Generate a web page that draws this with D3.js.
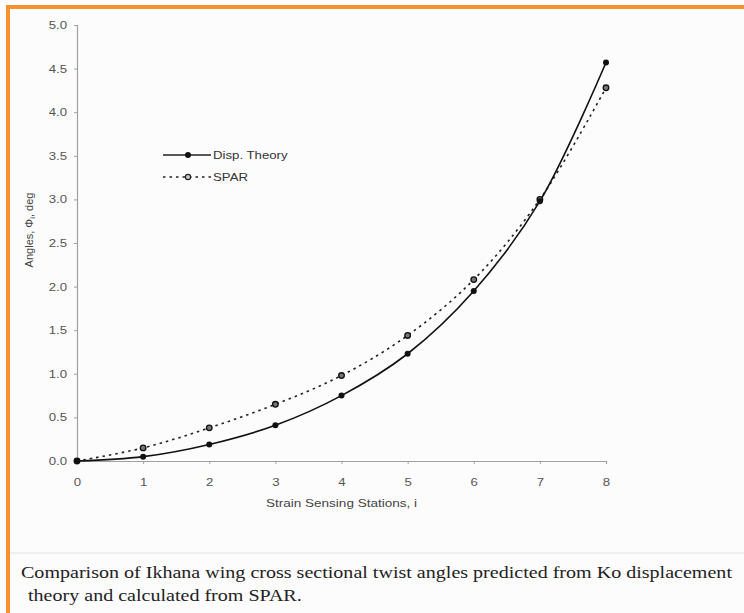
<!DOCTYPE html>
<html>
<head>
<meta charset="utf-8">
<script src="https://cdn.jsdelivr.net/npm/d3@7"></script>
<style>
  html, body { margin: 0; padding: 0; background: #fdfcfd; }
  svg { display: block; }
</style>
</head>
<body>
<div id="chart"></div>
<script>
// Values
const stations = [0, 1, 2, 3, 4, 5, 6, 7, 8];
const dispTheory = [0, 0.05, 0.19, 0.41, 0.75, 1.23, 1.95, 2.98, 4.57];
const spar = [0, 0.15, 0.38, 0.65, 0.98, 1.44, 2.08, 3.0, 4.28];
const yTicks = [0, 0.5, 1, 1.5, 2, 2.5, 3, 3.5, 4, 4.5, 5];
const xTicks = [0, 1, 2, 3, 4, 5, 6, 7, 8];
const captionLines = [
  'Comparison of Ikhana wing cross sectional twist angles predicted from Ko displacement',
  'theory and calculated from SPAR.'
];

const width = 744, height = 613;
const margin = { left: 77, right: 138, top: 25, bottom: 152 };
const SANS = 'Liberation Sans, Arial, sans-serif';
const STRETCH = 1.2; // the scan is wider than it is tall

// widen horizontal text like the scanned original
function stretch(sel, f) {
  sel.each(function () {
    const w = this.getComputedTextLength();
    d3.select(this).attr('textLength', w * f).attr('lengthAdjust', 'spacingAndGlyphs');
  });
}

const svg = d3.select('#chart').append('svg')
  .attr('width', width)
  .attr('height', height);

svg.append('rect').attr('width', width).attr('height', height).attr('fill', '#fdfcfd');

// orange frame (top and left)
svg.append('line').attr('x1', 6).attr('x2', width).attr('y1', 7).attr('y2', 7)
  .attr('stroke', '#f7932e').attr('stroke-width', 4);
svg.append('line').attr('x1', 8).attr('x2', 8).attr('y1', 5).attr('y2', height)
  .attr('stroke', '#f7932e').attr('stroke-width', 4);

const x = d3.scaleLinear().domain([0, 8]).range([margin.left, width - margin.right]);
const y = d3.scaleLinear().domain([0, 5]).range([height - margin.bottom, margin.top]);

// axes
const xAxis = svg.append('g')
  .attr('transform', `translate(0,${y(0)})`)
  .call(d3.axisBottom(x).tickValues(xTicks).tickFormat(d3.format('d')).tickSize(3).tickPadding(14));
const yAxis = svg.append('g')
  .attr('transform', `translate(${x(0)},0)`)
  .call(d3.axisLeft(y).tickValues(yTicks).tickFormat(d3.format('.1f')).tickSize(3).tickPadding(7));

[xAxis, yAxis].forEach(a => {
  a.select('.domain').attr('stroke', '#a0a0a0').attr('stroke-width', 1.2);
  a.selectAll('.tick line').attr('stroke', '#a0a0a0');
  a.selectAll('.tick text')
    .attr('fill', '#555')
    .attr('font-family', SANS)
    .attr('font-size', 11);
  stretch(a.selectAll('.tick text'), STRETCH);
});

const xTitle = svg.append('text')
  .attr('x', x(4))
  .attr('y', 507)
  .attr('text-anchor', 'middle')
  .attr('font-family', SANS)
  .attr('font-size', 11)
  .attr('fill', '#444')
  .text('Strain Sensing Stations, i');
stretch(xTitle, 1.23);

const yLabel = svg.append('text')
  .attr('transform', 'translate(33,230) rotate(-90)')
  .attr('text-anchor', 'middle')
  .attr('font-family', SANS)
  .attr('font-size', 11)
  .attr('fill', '#444');
yLabel.append('tspan').text('Angles, Φ');
yLabel.append('tspan').attr('font-size', 8).attr('dy', 2).text('i');
yLabel.append('tspan').attr('dy', -2).text(', deg');

// curves
const line = d3.line()
  .x((d, i) => x(stations[i]))
  .y(d => y(d))
  .curve(d3.curveCatmullRom.alpha(0.5));

svg.append('path')
  .datum(spar)
  .attr('d', line)
  .attr('fill', 'none')
  .attr('stroke', '#222')
  .attr('stroke-width', 1.6)
  .attr('stroke-dasharray', '2.5,4');

svg.append('path')
  .datum(dispTheory)
  .attr('d', line)
  .attr('fill', 'none')
  .attr('stroke', '#111')
  .attr('stroke-width', 1.6);

svg.append('g').selectAll('circle')
  .data(spar)
  .join('circle')
  .attr('cx', (d, i) => x(stations[i]))
  .attr('cy', d => y(d))
  .attr('r', 2.8)
  .attr('fill', '#777')
  .attr('stroke', '#111')
  .attr('stroke-width', 1.3);

svg.append('g').selectAll('circle')
  .data(dispTheory)
  .join('circle')
  .attr('cx', (d, i) => x(stations[i]))
  .attr('cy', d => y(d))
  .attr('r', 3)
  .attr('fill', '#111');

// legend
const legend = svg.append('g').attr('font-family', SANS).attr('font-size', 11);
legend.append('line').attr('x1', 163).attr('x2', 211).attr('y1', 155).attr('y2', 155)
  .attr('stroke', '#222').attr('stroke-width', 1.6);
legend.append('circle').attr('cx', 188).attr('cy', 155).attr('r', 3).attr('fill', '#111');
legend.append('text').attr('x', 213).attr('y', 159).attr('fill', '#333').text('Disp. Theory');
legend.append('line').attr('x1', 163).attr('x2', 211).attr('y1', 177).attr('y2', 177)
  .attr('stroke', '#222').attr('stroke-width', 1.4).attr('stroke-dasharray', '2.5,4');
legend.append('circle').attr('cx', 188).attr('cy', 177).attr('r', 2.6)
  .attr('fill', '#ccc').attr('stroke', '#222').attr('stroke-width', 1.2);
legend.append('text').attr('x', 213).attr('y', 181).attr('fill', '#333').text('SPAR');
stretch(legend.selectAll('text'), STRETCH);

// separator and caption
svg.append('line').attr('x1', 10).attr('x2', width).attr('y1', 553).attr('y2', 553)
  .attr('stroke', '#e4e4e4').attr('stroke-width', 1);

const caption = svg.append('g').selectAll('text')
  .data(captionLines)
  .join('text')
  .attr('x', (d, i) => i === 0 ? 21 : 28)
  .attr('y', (d, i) => 578 + i * 23)
  .attr('font-family', 'Liberation Serif, Times New Roman, serif')
  .attr('font-size', 16.5)
  .attr('fill', '#222')
  .text(d => d);
stretch(caption, 1.215);
</script>
</body>
</html>
